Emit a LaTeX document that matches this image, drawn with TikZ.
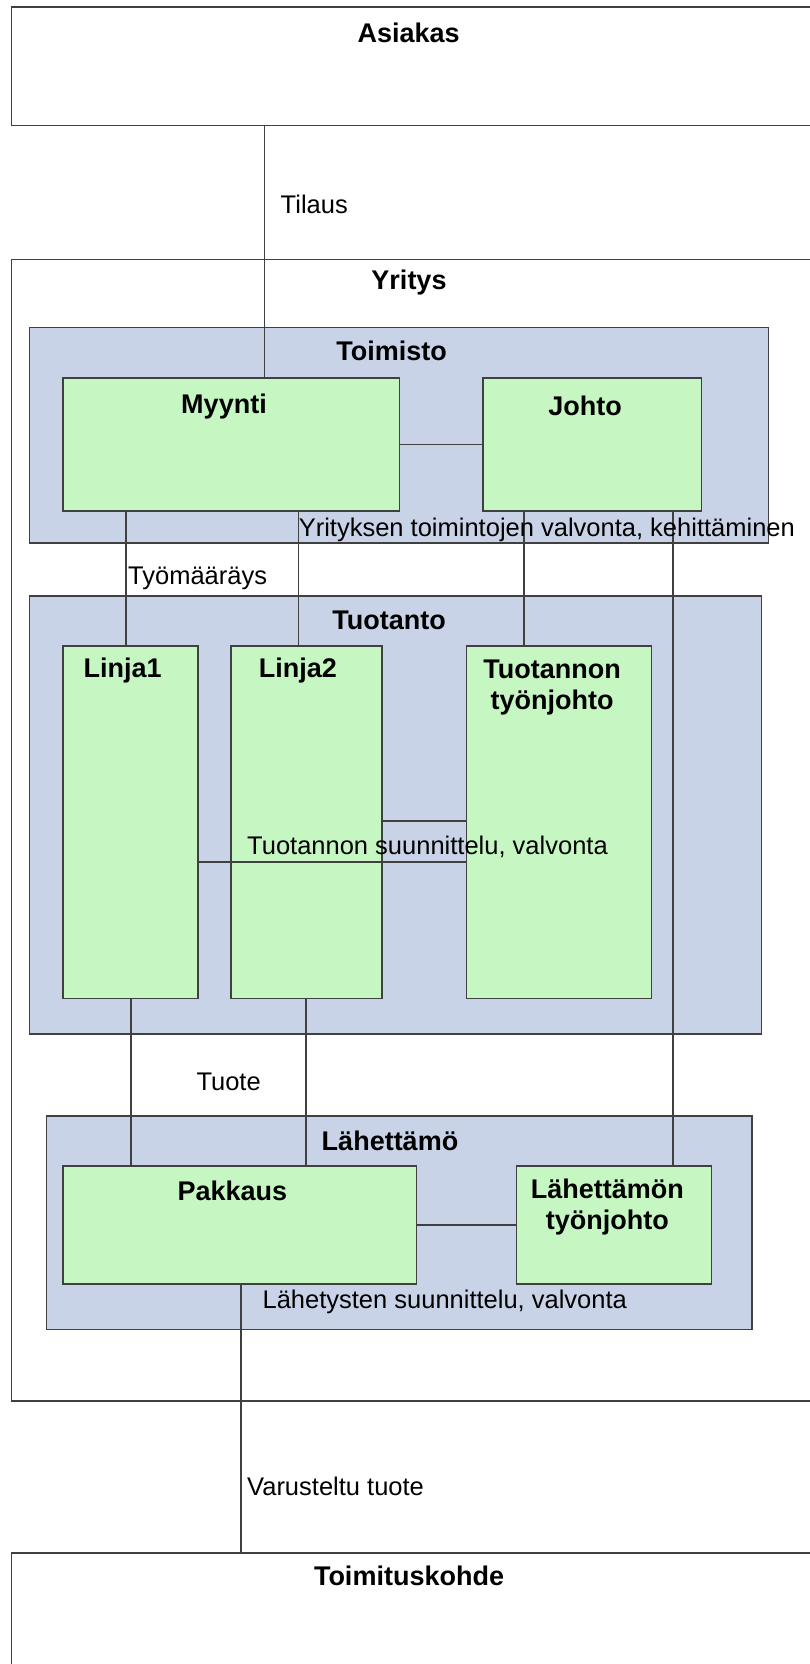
\documentclass[tikz,border=0pt]{standalone}
\usepackage{fontspec}
\setmainfont{Liberation Sans}
\definecolor{unitfill}{RGB}{201,211,231}
\definecolor{rolefill}{RGB}{198,247,194}
\definecolor{edge}{RGB}{64,64,64}
\begin{document}
\begin{tikzpicture}[x=1pt,y=-1pt,
  box/.style={draw=edge, line width=1.6pt, inner sep=0pt, outer sep=0pt, anchor=north west},
  party/.style={box, fill=white},
  unit/.style={box, fill=unitfill},
  role/.style={box, fill=rolefill},
  title/.style={font=\fontsize{27}{31}\selectfont\bfseries, inner sep=0pt, align=center},
  flow/.style={font=\fontsize{25.5}{29}\selectfont, inner sep=0pt, anchor=west},
  link/.style={draw=edge, line width=1.6pt}]
\useasboundingbox (0,0) rectangle (810,1664);
\clip (0,0) rectangle (810,1664);
\fill[white] (0,0) rectangle (810,1664);

% outer parties and the company
\node[party, minimum width=818.6pt, minimum height=118.4pt] (asiakas) at (11.4,7.3) {};
\node[party, minimum width=818.6pt, minimum height=1141.7pt] (yritys) at (11.4,259.3) {};
\node[party, minimum width=818.6pt, minimum height=150pt] (kohde) at (11.4,1552.7) {};

% office
\node[unit, minimum width=739.2pt, minimum height=215.4pt] (toimisto) at (29.4,327.3) {};
\node[role, minimum width=336.3pt, minimum height=133.3pt] (myynti) at (63,377.7) {};
\node[role, minimum width=218.4pt, minimum height=133.3pt] (johto) at (483,377.7) {};

% production
\node[unit, minimum width=732pt, minimum height=438.3pt] (tuotanto) at (29.4,595.7) {};
\node[role, minimum width=134.8pt, minimum height=352.3pt] (linja1) at (63,646) {};
\node[role, minimum width=151.3pt, minimum height=352.3pt] (linja2) at (230.9,646) {};
\node[role, minimum width=184.9pt, minimum height=352.3pt] (tuotjohto) at (466.4,646) {};

% dispatch
\node[unit, minimum width=705.5pt, minimum height=213.3pt] (lahettamo) at (46.5,1116) {};
\node[role, minimum width=353.3pt, minimum height=118pt] (pakkaus) at (63,1166) {};
\node[role, minimum width=194.8pt, minimum height=118pt] (lahjohto) at (516.5,1166) {};

% connector positions
\coordinate (xTil) at (264.5,0);
\coordinate (xL1up) at (126,0);
\coordinate (xL2up) at (298.6,0);
\coordinate (xTT) at (523.8,0);
\coordinate (xLT) at (672.7,0);
\coordinate (xL1dn) at (130.7,0);
\coordinate (xL2dn) at (305.8,0);
\coordinate (xPak) at (240.7,0);
\coordinate (yL2) at (0,820.7);
\coordinate (yL1) at (0,861.7);

% connectors
\draw[link] (asiakas.south -| xTil) -- (myynti.north -| xTil);
\draw[link] (myynti.east) -- (johto.west);
\draw[link] (myynti.south -| xL1up) -- (linja1.north -| xL1up);
\draw[link] (myynti.south -| xL2up) -- (linja2.north -| xL2up);
\draw[link] (johto.south -| xTT) -- (tuotjohto.north -| xTT);
\draw[link] (johto.south -| xLT) -- (lahjohto.north -| xLT);
\draw[link] (linja2.east |- yL2) -- (tuotjohto.west |- yL2);
\draw[link] (linja1.east |- yL1) -- (tuotjohto.west |- yL1);
\draw[link] (linja1.south -| xL1dn) -- (pakkaus.north -| xL1dn);
\draw[link] (linja2.south -| xL2dn) -- (pakkaus.north -| xL2dn);
\draw[link] (pakkaus.east) -- (lahjohto.west);
\draw[link] (pakkaus.south -| xPak) -- (kohde.north -| xPak);

% titles
\node[title] (tAsiakas) at (408.6,33) {Asiakas};
\node[title] (tYritys) at (409,283) {Yritys};
\node[title] (tToimisto) at (391.5,351) {Toimisto};
\node[title] (tMyynti) at (224,406.5) {Myynti};
\node[title] (tJohto) at (585,405.5) {Johto};
\node[title] (tTuotanto) at (389,620) {Tuotanto};
\node[title] (tLinja1) at (122.7,671) {Linja1};
\node[title] (tLinja2) at (297.8,671) {Linja2};
\node[title] (tTuotjohto) at (552,687.5) {Tuotannon\\työnjohto};
\node[title] (tLahettamo) at (390,1140.5) {Lähettämö};
\node[title] (tPakkaus) at (232.4,1191) {Pakkaus};
\node[title] (tLahjohto) at (607.4,1207.5) {Lähettämön\\työnjohto};
\node[title] (tKohde) at (409,1576) {Toimituskohde};

% flow labels
\node[flow] (fTilaus) at (280.5,204) {Tilaus};
\node[flow] (fValvonta) at (298.6,530) {Yrityksen toimintojen valvonta, kehittäminen};
\node[flow] (fTyomaarays) at (128,578.3) {Työmääräys};
\node[flow] (fTuotsuun) at (247,846.7) {Tuotannon suunnittelu, valvonta};
\node[flow] (fTuote) at (196.3,1082.3) {Tuote};
\node[flow] (fLahsuun) at (262.4,1301.7) {Lähetysten suunnittelu, valvonta};
\node[flow] (fVarusteltu) at (247,1486) {Varusteltu tuote};
\end{tikzpicture}
\end{document}
